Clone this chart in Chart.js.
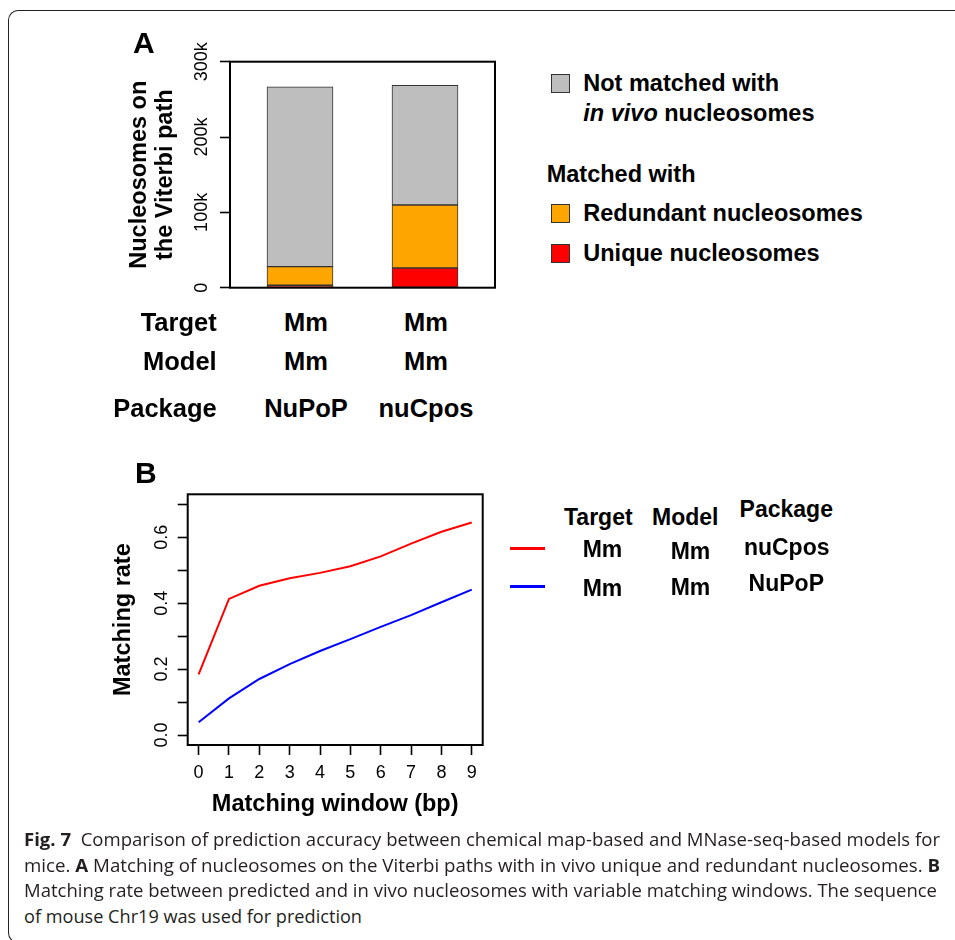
<!DOCTYPE html>
<html><head><meta charset="utf-8">
<script src="https://cdn.jsdelivr.net/npm/chart.js@4.4.1/dist/chart.umd.min.js"></script>
<style>
html,body{margin:0;padding:0;background:#fff;}
body{width:955px;height:940px;position:relative;overflow:hidden;font-family:'Liberation Sans',Arial,Helvetica,sans-serif;color:#000;}
.frame{position:absolute;left:8px;top:10px;width:1000px;height:933px;border-left:1.3px solid #222;border-top:1.3px solid #222;border-bottom:1.3px solid #222;border-radius:10px 0 0 10px;box-sizing:border-box;}
canvas{position:absolute;}
.t{position:absolute;font-weight:bold;white-space:nowrap;}
.sw{position:absolute;width:19px;height:19px;border:1.5px solid #333;box-sizing:border-box;}
.ln{position:absolute;height:3px;}
.cap{position:absolute;left:24px;white-space:nowrap;font-family:'Open Sans','Noto Sans',sans-serif;font-size:17.5px;color:#231f20;transform-origin:0 0;}
</style>
</head><body>
<div class="frame"></div>
<canvas id="cA" width="520" height="300" style="left:0;top:0;width:520px;height:300px"></canvas>
<canvas id="cB" width="520" height="395" style="left:0;top:440px;width:520px;height:395px"></canvas>
<div id="labels"></div>
<script>
// ---------- Data: panel A ----------
const packagesA = ['NuPoP', 'nuCpos'];
const targetsA = ['Mm', 'Mm'];
const modelsA = ['Mm', 'Mm'];
const uniqueA = [3200, 26100];
const redundantA = [24700, 83700];
const notMatchedA = [238900, 158900];
const yTickValsA = [0, 100000, 200000, 300000];
const yTickLabelsA = ['0', '100k', '200k', '300k'];

// ---------- Data: panel B ----------
const windowsB = [0, 1, 2, 3, 4, 5, 6, 7, 8, 9];
const nuCposRate = [0.184, 0.413, 0.453, 0.476, 0.492, 0.512, 0.542, 0.581, 0.617, 0.645];
const nuPoPRate = [0.039, 0.111, 0.170, 0.215, 0.255, 0.291, 0.328, 0.364, 0.403, 0.441];
const xTickValsB = [0, 1, 2, 3, 4, 5, 6, 7, 8, 9];
const xTickLabelsB = ['0', '1', '2', '3', '4', '5', '6', '7', '8', '9'];
const yTickValsB = [0, 0.1, 0.2, 0.3, 0.4, 0.5, 0.6, 0.7];
const yTickLabelsB = ['0.0', '', '0.2', '', '0.4', '', '0.6', ''];

const FONT = "'Liberation Sans', Arial, Helvetica, sans-serif";
Chart.defaults.font.family = FONT;
Chart.defaults.color = '#000';

const boxPlugin = {
  id: 'rbox',
  afterDraw(chart) {
    const {ctx, chartArea: a} = chart;
    ctx.save();
    ctx.strokeStyle = '#000';
    ctx.lineWidth = 2;
    ctx.strokeRect(a.left, a.top, a.right - a.left, a.bottom - a.top);
    ctx.restore();
  }
};

const tickGrid = {display: true, drawOnChartArea: false, drawTicks: true, tickLength: 10, tickColor: '#000', tickWidth: 1.6};

// ---------- Chart A ----------
const barStyle = {borderColor: '#333', borderWidth: 1, borderSkipped: false, barThickness: 66};
new Chart(document.getElementById('cA'), {
  type: 'bar',
  data: {
    datasets: [
      Object.assign({label: 'Unique nucleosomes', data: uniqueA.map((v, i) => ({x: i, y: v})), backgroundColor: '#FF0000'}, barStyle),
      Object.assign({label: 'Redundant nucleosomes', data: redundantA.map((v, i) => ({x: i, y: v})), backgroundColor: '#FFA500'}, barStyle),
      Object.assign({label: 'Not matched with in vivo nucleosomes', data: notMatchedA.map((v, i) => ({x: i, y: v})), backgroundColor: '#BEBEBE'}, barStyle)
    ]
  },
  options: {
    responsive: false, animation: false, devicePixelRatio: 1,
    layout: {padding: {left: 110, top: 61.7, right: 25, bottom: 12.3}},
    plugins: {legend: {display: false}, tooltip: {enabled: false}},
    scales: {
      x: {type: 'linear', stacked: true, offset: false, min: -0.56, max: 1.56, display: false, grid: {offset: false}},
      y: {
        stacked: true, min: 0, max: 300000,
        afterBuildTicks: s => { s.ticks = yTickValsA.map(v => ({value: v})); },
        afterFit: s => { s.width = 120; },
        border: {display: false},
        grid: tickGrid,
        ticks: {autoSkip: false, minRotation: 90, maxRotation: 90, crossAlign: 'center', padding: -2,
          font: {size: 18}, callback: (v, i) => yTickLabelsA[i]},
        title: {display: true, text: ['Nucleosomes on', 'the Viterbi path'],
          font: {size: 23.5, weight: 'bold', lineHeight: 1.1}, padding: {top: 16.6, bottom: 0}}
      }
    }
  },
  plugins: [boxPlugin]
});

// ---------- Chart B ----------
new Chart(document.getElementById('cB'), {
  type: 'line',
  data: {
    datasets: [
      {label: 'nuCpos', data: windowsB.map((w, i) => ({x: w, y: nuCposRate[i]})), borderColor: '#FF0000', borderWidth: 2, pointRadius: 0, tension: 0, fill: false},
      {label: 'NuPoP', data: windowsB.map((w, i) => ({x: w, y: nuPoPRate[i]})), borderColor: '#0000FF', borderWidth: 2, pointRadius: 0, tension: 0, fill: false}
    ]
  },
  options: {
    responsive: false, animation: false, devicePixelRatio: 1,
    layout: {padding: {left: 100, top: 54.3, right: 37.3, bottom: 0}},
    plugins: {legend: {display: false}, tooltip: {enabled: false}},
    scales: {
      x: {
        type: 'linear', min: -0.36, max: 9.36,
        afterBuildTicks: s => { s.ticks = xTickValsB.map(v => ({value: v})); },
        afterFit: s => { s.height = 90; },
        border: {display: false},
        grid: tickGrid,
        ticks: {autoSkip: false, maxRotation: 0, padding: 7.2, font: {size: 18}, callback: (v, i) => xTickLabelsB[i]},
        title: {display: true, text: 'Matching window (bp)', font: {size: 23.5, weight: 'bold', lineHeight: 1.15}, padding: {top: 0, bottom: 16.5}}
      },
      y: {
        type: 'linear', min: -0.0303, max: 0.7305,
        afterBuildTicks: s => { s.ticks = yTickValsB.map(v => ({value: v})); },
        afterFit: s => { s.width = 87.7; },
        border: {display: false},
        grid: tickGrid,
        ticks: {autoSkip: false, minRotation: 90, maxRotation: 90, crossAlign: 'center', padding: 3.5,
          font: {size: 18}, callback: (v, i) => yTickLabelsB[i]},
        title: {display: true, text: 'Matching rate', font: {size: 23.5, weight: 'bold', lineHeight: 1.15}, padding: {top: 10.5, bottom: 0}}
      }
    }
  },
  plugins: [boxPlugin]
});

// ---------- Text labels ----------
const host = document.getElementById('labels');
function lab(html, x, base, fs, align) {
  const d = document.createElement('div');
  d.className = 't';
  d.innerHTML = html;
  d.style.fontSize = fs + 'px';
  d.style.lineHeight = fs + 'px';
  d.style.top = (base - 0.8465 * fs) + 'px';
  d.style.left = x + 'px';
  if (align === 'center') d.style.transform = 'translateX(-50%)';
  else if (align === 'right') d.style.transform = 'translateX(-100%)';
  host.appendChild(d);
}
function box(x, y, color) {
  const d = document.createElement('div');
  d.className = 'sw';
  d.style.left = x + 'px'; d.style.top = y + 'px'; d.style.background = color;
  host.appendChild(d);
}
function seg(x, y, w, color) {
  const d = document.createElement('div');
  d.className = 'ln';
  d.style.left = x + 'px'; d.style.top = (y - 1.5) + 'px'; d.style.width = w + 'px'; d.style.background = color;
  host.appendChild(d);
}

// panel letters
lab('A', 133, 53.3, 30, 'left');
lab('B', 135, 483, 30, 'left');

// panel A legend
box(551, 73.5, '#BEBEBE');
lab('Not matched with', 583.3, 91.7, 23.5, 'left');
lab('<i>in vivo</i> nucleosomes', 583.3, 121.7, 23.5, 'left');
lab('Matched with', 546.7, 183.3, 23.5, 'left');
box(551, 204, '#FFA500');
lab('Redundant nucleosomes', 583.3, 221.7, 23.5, 'left');
box(551, 243.5, '#FF0000');
lab('Unique nucleosomes', 583.3, 261.7, 23.5, 'left');

// panel A row labels
const colA = [306, 426];
lab('Target', 216.7, 331.7, 25.5, 'right');
lab('Model', 216.7, 371, 25.5, 'right');
lab('Package', 216.7, 417.5, 25.5, 'right');
for (let i = 0; i < packagesA.length; i++) {
  lab(targetsA[i], colA[i], 331.7, 25.5, 'center');
  lab(modelsA[i], colA[i], 371, 25.5, 'center');
  lab(packagesA[i], colA[i], 417.5, 25.5, 'center');
}

// panel B legend
lab('Target', 598.3, 525.5, 23, 'center');
lab('Model', 685.3, 525.5, 23, 'center');
lab('Package', 786.3, 517.3, 23, 'center');
seg(510, 548.3, 35, '#FF0000');
lab('Mm', 602.5, 557.7, 23, 'center');
lab('Mm', 690.5, 559.3, 23, 'center');
lab('nuCpos', 786.7, 555, 23, 'center');
seg(510, 586.7, 35, '#0000FF');
lab('Mm', 602.5, 596.7, 23, 'center');
lab('Mm', 690.5, 595, 23, 'center');
lab('NuPoP', 786.3, 591.7, 23, 'center');

// caption
const capLines = [
  ['<b>Fig. 7</b>&nbsp; Comparison of prediction accuracy between chemical map-based and MNase-seq-based models for', 846.7, 916],
  ['mice. <b>A</b> Matching of nucleosomes on the Viterbi paths with in vivo unique and redundant nucleosomes. <b>B</b>', 872.2, 916],
  ['Matching rate between predicted and in vivo nucleosomes with variable matching windows. The sequence', 897.7, 913],
  ['of mouse Chr19 was used for prediction', 923.2, 338]
];
for (const [html, base, w] of capLines) {
  const d = document.createElement('div');
  d.className = 'cap';
  d.innerHTML = html;
  d.style.lineHeight = '17.5px';
  d.style.top = (base - 0.888 * 17.5) + 'px';
  host.appendChild(d);
  const nat = d.getBoundingClientRect().width;
  d.style.transform = 'scaleX(' + (w / nat) + ')';
}
</script>
</body></html>
